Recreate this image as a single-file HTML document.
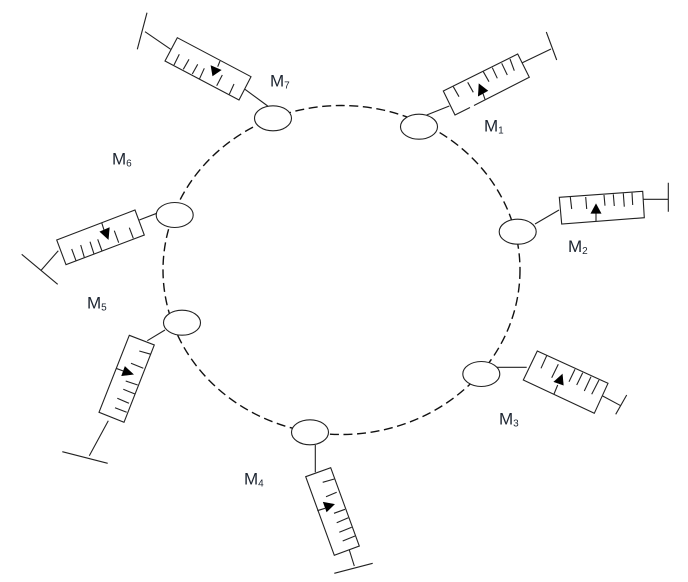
<!DOCTYPE html>
<html><head><meta charset="utf-8"><title>Ring of syringes</title>
<style>html,body{margin:0;padding:0;background:#fff}svg{display:block}text{font-family:"Liberation Sans",sans-serif;fill:#1c2430}</style></head>
<body>
<svg width="688" height="582" viewBox="0 0 688 582" xmlns="http://www.w3.org/2000/svg">
<ellipse cx="341.5" cy="270" rx="178.5" ry="164.5" fill="none" stroke="#111" stroke-width="1.4" stroke-dasharray="9 4.6"/>
<g fill="#fff" stroke="#222" stroke-width="1.1">
<ellipse cx="419" cy="126.7" rx="18.5" ry="12.5"/>
<ellipse cx="517.7" cy="231.7" rx="18.5" ry="12.5"/>
<ellipse cx="481.3" cy="374" rx="18.5" ry="12.5"/>
<ellipse cx="310" cy="432.3" rx="18.5" ry="12.5"/>
<ellipse cx="182" cy="322.7" rx="18.5" ry="12.5"/>
<ellipse cx="174.7" cy="215" rx="18.5" ry="12.5"/>
<ellipse cx="273" cy="118.3" rx="18.5" ry="12.5"/>
</g>
<g fill="none" stroke="#222" stroke-width="1.1">
<!-- M1 -->
<path d="M426.7 115L449.3 106M522.3 62.7L551 49M546.3 32L556.7 60"/>
<path d="M470 107.5L455 115L443.3 91L517.7 54L529.3 77.3L474 105.5"/>
<path d="M453.3 86.7L459 96.7M467.7 82.3L473.3 92.3M483.3 71.7L489 81.7M492.3 67.7L497.3 78.3M501.7 63.3L507.3 75M510 59L514.3 70.7M485 99.3L482.7 92.7"/>
<!-- M2 -->
<path d="M535 224L559 210M643.3 199.3H668.3M668.3 182.7V211.7"/>
<path d="M559.3 197.3L642.7 191.3L644.3 217.7L561.7 224Z"/>
<path d="M570.3 197L571.7 209M585.7 197L586.7 209M604 195L605 205.7M613.3 194.3L614.3 206M623.3 193.3L624.3 206.7M632 192.7L632.7 205M596 221V213"/>
<!-- M3 -->
<path d="M496.7 367.3H526.7M602.7 396L620.7 405.7M626.7 395L615.7 414.3"/>
<path d="M537.3 351L608 383.3L594.3 413.3L523.3 380Z"/>
<path d="M546.7 355.7L541 368.3M558.3 364.3L551.7 377.7M575 369.3L569 381.7M582.7 372.7L576.7 385M591 376.7L584.3 391M599 380L591.7 394.3M554 394L557.7 385"/>
<!-- M4 -->
<path d="M315.3 445V472.3M349.3 550L354.3 566M334.3 573.3L372.7 563.3"/>
<path d="M305.7 476.7L330.7 467.7L359.3 546L334.3 555.3Z"/>
<path d="M334.3 479L322.7 482.3M336.7 492.3L326 496.7M345 509.3L334 513.3M348.3 517.7L336.7 522.7M351.7 527.3L339.3 532.3M355 536L342.7 541M317.3 510.7L325 508.3"/>
<!-- M5 -->
<path d="M165 330L147.3 340.7M108.3 420.7L89.3 455.7M62.3 451.7L107.7 463.3"/>
<path d="M129.3 335.3L154.3 345L124 422.3L99 412.3Z"/>
<path d="M151 354.3L139.3 351M143.3 368.3L131 363.3M137.7 385L125.7 381M135 394L123.3 389.3M129 403.3L117.3 398.3M126.7 412.3L115 407.7M116 368.3L123.3 371"/>
<!-- M6 -->
<path d="M156.7 213.3L139.3 220M58.3 250.7L40.7 270.7M21.7 254.3L57.7 284.3"/>
<path d="M56.7 240L135 210L144.3 235L66 264.7Z"/>
<path d="M71.7 249L76 260.7M80.7 245L84.3 257.3M90 241.7L94 254M97.7 239.3L102 251M114.3 230.7L118.7 242.7M129.3 227.7L133.3 238.3M101.7 222.7L104 230"/>
<!-- M7 -->
<path d="M267.7 106L245 89.3M170.7 49.3L145 31.7M147 12.7L137.3 49.3"/>
<path d="M177.3 37.7L251 76.7L239 100L165 61Z"/>
<path d="M179.3 54.3L174 65M189 59.3L183.3 69.3M197.7 64.3L192.3 74M204.3 68.3L199.3 79.3M222.3 75L216.7 85.7M234 84L229.3 94.3M220 61L217.7 66.7"/>
</g>
<g fill="#000" stroke="#000" stroke-width=".6">
<path d="M479 84L478.3 96L487.7 90.7Z"/>
<path d="M596 204L591 213.3H601Z"/>
<path d="M562.3 374.3L554 381.7L563.3 385Z"/>
<path d="M334.3 504.3L323.3 502.3L326.7 511.7Z"/>
<path d="M133.3 374.3L125 366.7L121.7 375.7Z"/>
<path d="M108.3 239.3L100 231.7L109.3 227.7Z"/>
<path d="M212.7 75.7L211 65.7L221 70Z"/>
</g>
<g font-size="17">
<text x="484" y="131.5">M<tspan font-size="10" dy="2">1</tspan></text>
<text x="568" y="252">M<tspan font-size="10" dy="2">2</tspan></text>
<text x="499" y="424.5">M<tspan font-size="10" dy="2">3</tspan></text>
<text x="244" y="484.5">M<tspan font-size="10" dy="2">4</tspan></text>
<text x="87" y="308.5">M<tspan font-size="10" dy="2">5</tspan></text>
<text x="112" y="164.5">M<tspan font-size="10" dy="2">6</tspan></text>
<text x="270" y="86.5">M<tspan font-size="10" dy="2">7</tspan></text>
</g>
</svg>
</body></html>
